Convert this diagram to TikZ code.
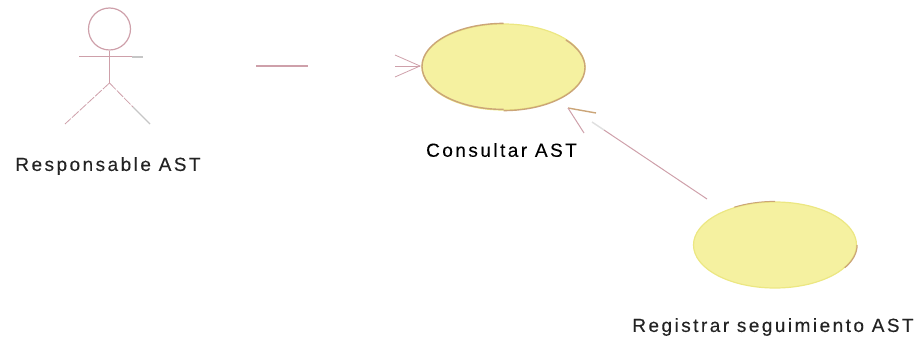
\documentclass[tikz,border=0pt]{standalone}
\usepackage{fontspec}
\setmainfont{Liberation Sans}
\definecolor{actorRose}{RGB}{206,160,170}
\definecolor{caseYellow}{RGB}{245,241,160}
\definecolor{caseEdge}{RGB}{203,165,120}
\definecolor{caseEdgeLight}{RGB}{236,231,130}
\definecolor{labelInk}{RGB}{35,35,35}
\usetikzlibrary{shapes,arrows.meta,positioning,calc}
\tikzset{
  usecase/.style={ellipse, draw=caseEdgeLight, line width=1.2pt, fill=caseYellow, inner sep=0pt, minimum width=163pt, minimum height=86pt},
  caption/.style={text=labelInk, font=\fontsize{19}{22}\selectfont\addfontfeature{LetterSpace=13,FakeBold=0.2}, inner sep=0pt}
}
\begin{document}
\begin{tikzpicture}[x=1pt,y=-1pt]
        \useasboundingbox (0,0) rectangle (923,347);
        % Actor
        \node[circle, draw=actorRose, line width=1.2pt, inner sep=0pt, minimum size=42pt]
          (head) at (109.5,29) {};
        \coordinate (hip) at (109.5,83);
        \coordinate (armL) at (79,57);
        \coordinate (armR) at (143,57);
        \coordinate (footL) at (65,124);
        \coordinate (footR) at (150,124);
        \draw[actorRose, line width=1.2pt] (head) -- (hip);
        \draw[actorRose, line width=1pt] (armL) -- (132,57);
        \draw[actorRose, line width=0.8pt, dash pattern=on 9pt off 1.5pt] (hip) -- (footL);
        \draw[actorRose, line width=0.8pt, dash pattern=on 9pt off 1.5pt] (hip) -- (133,107);
        \draw[gray!45, line width=1.2pt] (133,107) -- (footR);
        \draw[gray!45, line width=1.2pt] (132,57) -- (armR);
        \node[caption] (actorlabel) at (108,166) {Responsable AST};
        % Use cases
        \node[usecase] (consultar) at (503.5,67) {};
        \node[usecase] (registrar) at (775,245) {};
        \draw[caseEdge, line width=1.4pt] (consultar.north) arc[start angle=90, delta angle=180, x radius=81.5pt, y radius=43pt];
        \draw[caseEdge, line width=1.4pt] (consultar.south) arc[start angle=270, delta angle=130, x radius=81.5pt, y radius=43pt];
        \draw[caseEdge, line width=1.2pt] (registrar.east) arc[start angle=0, delta angle=-32, x radius=81.5pt, y radius=43pt];
        \draw[caseEdge, line width=1pt] (registrar.north) arc[start angle=90, delta angle=30, x radius=81.5pt, y radius=43pt];
        \node[caption, text=black] (consultarlabel) at (501.5,150) {Consultar AST};
        \node[caption] (registrarlabel) at (773,327) {Registrar seguimiento AST};
        % Association, only its ends are left
        \coordinate (assocA) at (256,66);
        \coordinate (assocB) at (308,66);
        \coordinate (assocC) at (395,66);
        \coordinate (assocTip) at (420,66);
        \draw[actorRose, line width=1.2pt] (assocA) -- (assocB);
        \draw[actorRose, line width=0.8pt] (assocC) -- (assocTip);
        \draw[actorRose, line width=0.8pt] (395,55) -- (assocTip) -- (395,77);
        % Extends arrow
        \coordinate (genStart) at (707,199);
        \coordinate (genMid) at (604,130);
        \coordinate (genTip) at (568,108);
        \draw[actorRose, line width=1pt] (genStart) -- (genMid);
        \draw[gray!25, line width=1.5pt] (genMid) -- (592,122);
        \draw[caseEdge, line width=1.4pt] (596,113) -- (genTip);
        \draw[actorRose, line width=1pt] (genTip) -- (584,133);
      \end{tikzpicture}
\end{document}
